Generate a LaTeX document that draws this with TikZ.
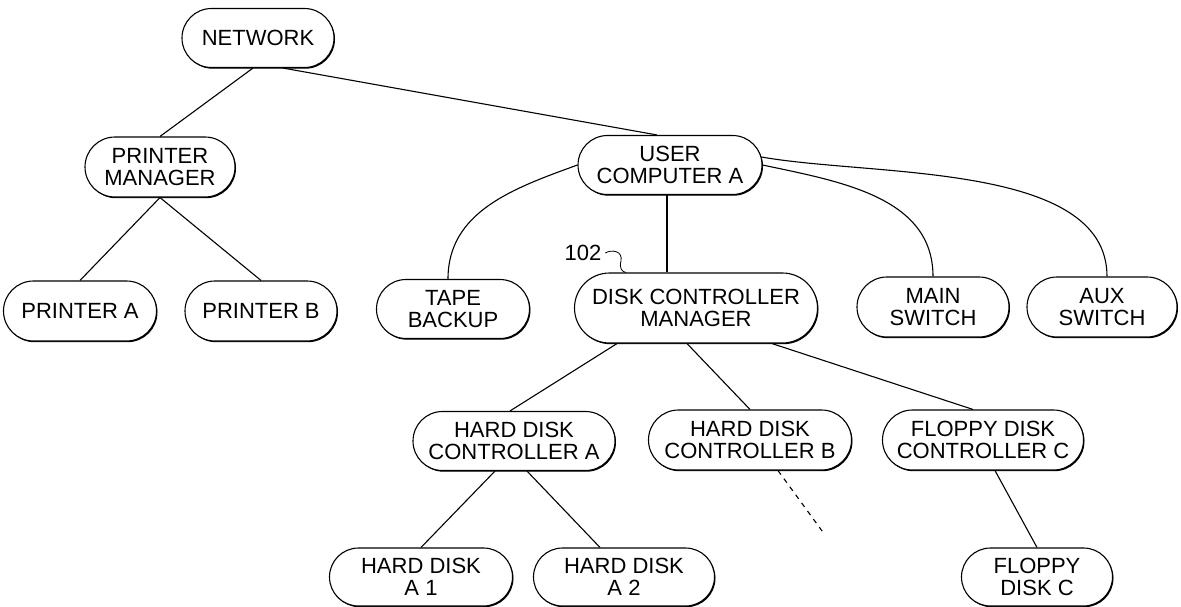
\documentclass[tikz,border=0pt]{standalone}
\usepackage{fontspec}
\setmainfont{Liberation Sans}
\usetikzlibrary{shapes.misc,shadows}

\begin{document}
\begin{tikzpicture}[x=1pt,y=-1pt,line width=1.1pt,
		box/.style={draw, rounded rectangle, fill=white, align=center, inner sep=0pt, minimum height=60pt,
			drop shadow={shadow xshift=1pt, shadow yshift=-1.2pt, fill=black, opacity=1}},
		font=\fontsize{22}{22}\selectfont]
				\useasboundingbox (0,0) rectangle (1181,606);
				\draw (258,38) node[box, minimum width=152pt, minimum height=59pt] (net) {NETWORK};
				\draw (160,167) node[box, minimum width=150pt] (pm) {PRINTER\\MANAGER};
				\draw (80,311) node[box, minimum width=153pt] (pa) {PRINTER A};
				\draw (261,311) node[box, minimum width=152pt] (pb) {PRINTER B};
				\draw (670,165) node[box, minimum width=184pt, minimum height=59pt] (user) {USER\\COMPUTER A};
				\draw (453,309) node[box, minimum width=153pt, minimum height=59pt] (tape) {TAPE\\BACKUP};
				\draw (696,308) node[box, minimum width=243pt, minimum height=70pt] (dcm) {DISK CONTROLLER\\MANAGER};
				\draw (933,307) node[box, minimum width=152pt] (main) {MAIN\\SWITCH};
				\draw (1102,307) node[box, minimum width=150pt] (aux) {AUX\\SWITCH};
				\draw (514,441) node[box, minimum width=202pt, minimum height=59pt] (hdca) {HARD DISK\\CONTROLLER A};
				\draw (750,440) node[box, minimum width=203pt] (hdcb) {HARD DISK\\CONTROLLER B};
				\draw (983,440) node[box, minimum width=201pt] (fdcc) {FLOPPY DISK\\CONTROLLER C};
				\draw (421,577) node[box, minimum width=183pt, minimum height=58pt] (hda1) {HARD DISK\\A 1};
				\draw (624,577) node[box, minimum width=181pt, minimum height=58pt] (hda2) {HARD DISK\\A 2};
				\draw (1037,577) node[box, minimum width=151pt, minimum height=58pt] (fdc) {FLOPPY\\DISK C};
				\draw (583,253) node (ref) {102};
				\coordinate (hdcbnext) at (825,535);

				\path
				([xshift=-5pt]net.south) edge (pm.north)
				([xshift=25pt]net.south) edge ([xshift=-13pt]user.north)
				(pm.south) edge (pa.north)
				(pm.south) edge (pb.north)
				(user.west) edge[out=200, in=90] ([xshift=-5pt]tape.north)
				([xshift=-3pt]user.south) edge ([xshift=-29pt]dcm.north)
				(user.east) edge[out=-12, in=90] (main.north)
				(user.5) edge[out=-10, in=90, looseness=0.8] ([xshift=5pt]aux.north)
				([xshift=-79pt]dcm.south) edge ([xshift=-4pt]hdca.north)
				([xshift=-9pt]dcm.south) edge (hdcb.north)
				([xshift=76pt]dcm.south) edge ([xshift=-10pt]fdcc.north)
				([xshift=28pt]hdcb.south) edge[dash pattern=on 5pt off 5pt] (hdcbnext)
				([xshift=-19pt]hdca.south) edge (hda1.north)
				([xshift=13pt]hdca.south) edge ([xshift=-24pt]hda2.north)
				([xshift=12pt]fdcc.south) edge (fdc.north)
				;
				\draw[line width=0.8pt] (ref.east) .. controls (612,249) and (623,251) .. (621,261)
					.. controls (619,268) and (622,272) .. ([xshift=-70pt]dcm.north);
			\end{tikzpicture}
\end{document}
